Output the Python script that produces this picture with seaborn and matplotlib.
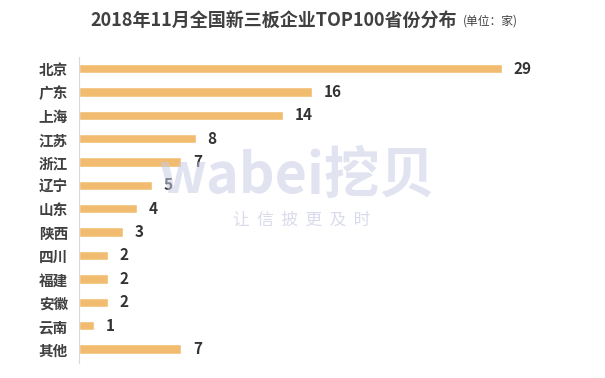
import matplotlib
matplotlib.use("Agg")
import matplotlib.pyplot as plt
import seaborn as sns
import pandas as pd

# Province data (units: companies)
provinces = ["北京", "广东", "上海", "江苏", "浙江", "辽宁", "山东", "陕西",
             "四川", "福建", "安徽", "云南", "其他"]
counts = [29, 16, 14, 8, 7, 5, 4, 3, 2, 2, 2, 1, 7]

df = pd.DataFrame({"province": provinces, "count": counts})

sns.set_style("white")
plt.rcParams["font.family"] = ["Noto Sans CJK SC", "DejaVu Sans"]

fig = plt.figure(figsize=(6.05, 3.78), dpi=100)
ax = fig.add_axes([0.1306, 0.04, 0.82, 0.809])
ax.patch.set_alpha(0)

sns.barplot(data=df, y="province", x="count", orient="h", color="#F1BC70",
            saturation=1, width=0.4, ax=ax)

for i, v in enumerate(counts):
    ax.text(v + 0.8, i, str(v), va="center", ha="left", fontsize=11,
            fontweight="bold", color="#333333")

ax.set_xlim(0, 34)
ax.set_ylim(12.6, -0.5)
ax.set_xlabel("")
ax.set_ylabel("")
ax.set_xticks([])
for side in ["top", "right", "bottom"]:
    ax.spines[side].set_visible(False)
ax.spines["left"].set_color("#d9d9d9")
ax.tick_params(axis="y", length=0, pad=8)
for lbl in ax.get_yticklabels():
    lbl.set_fontsize(10.5)
    lbl.set_fontweight("bold")
    lbl.set_color("#404040")

# Title
fig.text(0.755, 0.947, "2018年11月全国新三板企业TOP100省份分布", ha="right", va="center",
         fontsize=13, fontweight="bold", color="#404040")
fig.text(0.765, 0.945, "(单位：家)", ha="left", va="center", fontsize=8.5,
         color="#404040")

# Watermark (semi-transparent, over the chart like the original)
fig.text(0.49, 0.532, "wabei挖贝", ha="center", va="center", fontsize=40,
         fontweight="bold", color="#C9CCE4", alpha=0.55)
fig.text(0.498, 0.418, "让  信  披  更  及  时", ha="center", va="center",
         fontsize=12, color="#C9CCE4", alpha=0.7)

fig.savefig("out.png", dpi=100)
